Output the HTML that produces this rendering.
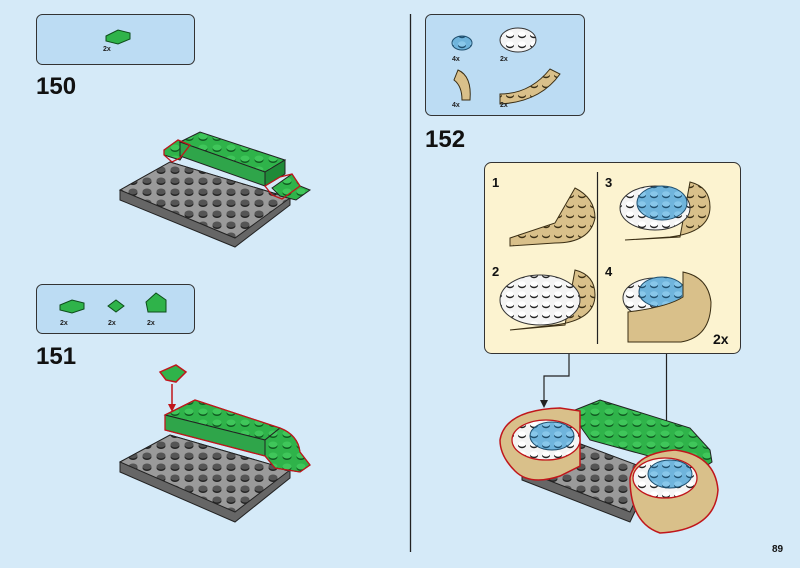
<!DOCTYPE html>
<html><head><style>
html,body{margin:0;padding:0;background:#d5eaf8;}
svg{display:block;font-family:"Liberation Sans",sans-serif;}
</style></head><body>
<svg width="800" height="568" viewBox="0 0 800 568" xmlns="http://www.w3.org/2000/svg">
<defs>
<pattern id="gs" x="0" y="0" width="14" height="11" patternUnits="userSpaceOnUse">
<rect width="14" height="11" fill="#9a9a9a"/>
<ellipse cx="7" cy="6" rx="4.5" ry="3" fill="#222"/><ellipse cx="7" cy="4.5" rx="4.5" ry="3" fill="#555"/>
</pattern>
<pattern id="gr" x="0" y="0" width="14" height="11" patternUnits="userSpaceOnUse">
<rect width="14" height="11" fill="#2fb34a"/>
<ellipse cx="7" cy="6" rx="4.5" ry="3" fill="#0f5a20"/><ellipse cx="7" cy="4.5" rx="4.5" ry="3" fill="#3fc65a"/>
</pattern>
<pattern id="bl" x="0" y="0" width="12" height="10" patternUnits="userSpaceOnUse">
<rect width="12" height="10" fill="#6fb4dc"/>
<ellipse cx="6" cy="5.5" rx="4" ry="2.7" fill="#1f4f6e"/><ellipse cx="6" cy="4" rx="4" ry="2.7" fill="#88c7ea"/>
</pattern>
<pattern id="wh" x="0" y="0" width="12" height="10" patternUnits="userSpaceOnUse">
<rect width="12" height="10" fill="#f4f4f4"/>
<ellipse cx="6" cy="5.5" rx="4" ry="2.7" fill="#222"/><ellipse cx="6" cy="4" rx="4" ry="2.7" fill="#fff"/>
</pattern>
<pattern id="tn" x="0" y="0" width="12" height="10" patternUnits="userSpaceOnUse">
<rect width="12" height="10" fill="#d9c08a"/>
<ellipse cx="6" cy="5.5" rx="4" ry="2.7" fill="#3a2e14"/><ellipse cx="6" cy="4" rx="4" ry="2.7" fill="#d9c08a"/>
</pattern>
</defs>
<rect width="800" height="568" fill="#d5eaf8"/>
<line x1="410.5" y1="14" x2="410.5" y2="552" stroke="#222" stroke-width="1.3"/>

<!-- parts box 150 -->
<rect x="36.5" y="14.5" width="158" height="50" rx="6" fill="#bcdcf3" stroke="#333"/>
<polygon points="106,36 118,30 130,33 130,39 118,44 106,41" fill="#2fb34a" stroke="#0d4d1a"/>
<text x="103" y="51" font-size="7" font-weight="bold" fill="#222">2x</text>
<text x="36" y="94" font-size="24" font-weight="bold" fill="#111">150</text>

<!-- model 150 -->
<polygon points="120,190 170,162 290,198 290,205 235,247 120,200" fill="#666" stroke="#222"/>
<polygon points="120,190 170,162 290,198 235,238" fill="url(#gs)" stroke="#222"/>
<polygon points="164,150 178,140 190,145 180,160 164,155" fill="url(#gr)" stroke="#222"/>
<polygon points="272,188 292,174 300,186 310,190 296,200 280,196" fill="url(#gr)" stroke="#222"/>
<polygon points="180,142 200,132 285,160 265,172" fill="url(#gr)" stroke="#222"/>
<polygon points="180,142 265,172 265,186 180,156" fill="#2fa54a" stroke="#222"/>
<polygon points="265,172 285,160 285,174 265,186" fill="#1f8a38" stroke="#222"/>
<path d="M164,150 L178,140 L190,145 L180,158 L172,162 L164,155 Z" fill="none" stroke="#c0161b" stroke-width="1.3"/>
<path d="M265,186 L280,177 L292,174 L300,186 L282,199 L272,195 Z" fill="none" stroke="#c0161b" stroke-width="1.3"/>

<!-- parts box 151 -->
<rect x="36.5" y="284.5" width="158" height="49" rx="6" fill="#bcdcf3" stroke="#333"/>
<polygon points="60,305 72,300 84,303 84,309 72,313 60,310" fill="#2fb34a" stroke="#0d4d1a"/>
<polygon points="108,306 116,300 124,306 116,312" fill="#2fb34a" stroke="#0d4d1a"/>
<polygon points="146,302 156,293 166,300 166,312 148,312" fill="#2fb34a" stroke="#0d4d1a"/>
<text x="60" y="325" font-size="7" font-weight="bold" fill="#222">2x</text>
<text x="108" y="325" font-size="7" font-weight="bold" fill="#222">2x</text>
<text x="147" y="325" font-size="7" font-weight="bold" fill="#222">2x</text>
<text x="36" y="364" font-size="24" font-weight="bold" fill="#111">151</text>

<!-- model 151 -->
<polygon points="160,372 176,365 186,372 176,382 166,380" fill="#2fb34a" stroke="#c0161b" stroke-width="1.5"/>
<line x1="172" y1="384" x2="172" y2="408" stroke="#c0161b" stroke-width="1.5"/>
<polygon points="168,404 176,404 172,412" fill="#c0161b"/>
<polygon points="120,462 170,435 290,470 290,478 235,522 120,472" fill="#666" stroke="#222"/>
<polygon points="120,462 170,435 290,470 235,512" fill="url(#gs)" stroke="#222"/>
<polygon points="165,415 195,400 280,428 265,440" fill="url(#gr)" stroke="#222"/>
<polygon points="165,415 265,440 265,456 165,430" fill="#2fa54a" stroke="#222"/>
<path d="M265,440 L280,428 Q298,435 300,452 L310,465 L300,472 L275,468 L265,456 Z" fill="url(#gr)" stroke="#222"/>
<path d="M165,415 L195,400 L280,428 Q298,435 300,452 L310,465 L300,472 L275,468 L265,456 L165,430 Z" fill="none" stroke="#c0161b" stroke-width="1.3"/>

<!-- parts box 152 -->
<rect x="425.5" y="14.5" width="159" height="101" rx="6" fill="#bcdcf3" stroke="#333"/>
<ellipse cx="462" cy="43" rx="10" ry="7" fill="url(#bl)" stroke="#1f4f6e"/>
<ellipse cx="518" cy="40" rx="18" ry="12" fill="url(#wh)" stroke="#333"/>
<path d="M458,70 q14,6 12,30 l-8,0 q0,-14 -8,-20 z" fill="#d9c08a" stroke="#3a2e14"/>
<path d="M500,94 q30,0 50,-25 l10,5 q-20,28 -60,30 z" fill="url(#tn)" stroke="#3a2e14"/>
<text x="452" y="61" font-size="7" font-weight="bold" fill="#222">4x</text>
<text x="500" y="61" font-size="7" font-weight="bold" fill="#222">2x</text>
<text x="452" y="107" font-size="7" font-weight="bold" fill="#222">4x</text>
<text x="500" y="107" font-size="7" font-weight="bold" fill="#222">2x</text>
<text x="425" y="147" font-size="24" font-weight="bold" fill="#111">152</text>

<!-- panel -->
<rect x="484.5" y="162.5" width="256" height="191" rx="7" fill="#fcf3d0" stroke="#333"/>
<line x1="597.5" y1="172" x2="597.5" y2="344" stroke="#222" stroke-width="1.2"/>
<text x="492" y="187" font-size="13" font-weight="bold" fill="#111">1</text>
<text x="492" y="276" font-size="13" font-weight="bold" fill="#111">2</text>
<text x="605" y="187" font-size="13" font-weight="bold" fill="#111">3</text>
<text x="605" y="276" font-size="13" font-weight="bold" fill="#111">4</text>
<text x="713" y="344" font-size="14" font-weight="bold" fill="#111">2x</text>
<path d="M510,238 l45,-15 l20,-35 q20,10 20,30 q-5,25 -40,25 l-45,3 z" fill="url(#tn)" stroke="#3a2e14"/>
<path d="M510,330 l45,-5 q40,-5 40,-30 q0,-20 -20,-25 l-10,55 z" fill="url(#tn)" stroke="#3a2e14"/>
<ellipse cx="540" cy="300" rx="40" ry="25" fill="url(#wh)" stroke="#333"/>
<path d="M625,240 l45,-3 q40,-5 40,-30 q0,-20 -20,-25 l-10,55 z" fill="url(#tn)" stroke="#3a2e14"/>
<ellipse cx="655" cy="208" rx="35" ry="22" fill="url(#wh)" stroke="#333"/>
<ellipse cx="662" cy="203" rx="25" ry="17" fill="url(#bl)" stroke="#1f4f6e"/>
<ellipse cx="655" cy="298" rx="32" ry="20" fill="url(#wh)" stroke="#333"/>
<ellipse cx="662" cy="292" rx="23" ry="15" fill="url(#bl)" stroke="#1f4f6e"/>
<path d="M628,312 q40,-5 55,-15 l0,-25 q25,5 28,30 q0,35 -30,40 l-53,0 z" fill="#d9c08a" stroke="#3a2e14"/>

<!-- connector arrows -->
<polyline points="569,354 569,376 544,376 544,402" fill="none" stroke="#222" stroke-width="1.2"/>
<polygon points="540,400 548,400 544,408" fill="#222"/>
<line x1="666.5" y1="354" x2="666.5" y2="458" stroke="#222" stroke-width="1.2"/>
<polygon points="662,456 671,456 666.5,464" fill="#222"/>

<!-- model 152 -->
<polygon points="570,412 600,400 690,428 710,450 712,462 700,470 590,440" fill="url(#gr)" stroke="#222"/>
<polygon points="522,470 570,440 650,470 650,480 630,522 522,480" fill="#666" stroke="#222"/>
<polygon points="522,470 570,440 650,470 630,512" fill="url(#gs)" stroke="#222"/>
<path d="M500,440 q5,-30 60,-32 l20,3 l0,55 l-20,10 q-30,10 -45,-5 q-15,-15 -15,-31 z" fill="#d9c08a" stroke="#c0161b" stroke-width="1.5"/>
<ellipse cx="546" cy="440" rx="34" ry="20" fill="url(#wh)" stroke="#c0161b" stroke-width="1.3"/>
<ellipse cx="552" cy="436" rx="22" ry="14" fill="url(#bl)" stroke="#1f4f6e"/>
<path d="M630,478 q5,-25 45,-28 q40,5 43,40 q-3,40 -58,43 q-30,-10 -30,-55 z" fill="#d9c08a" stroke="#c0161b" stroke-width="1.5"/>
<ellipse cx="665" cy="478" rx="32" ry="20" fill="url(#wh)" stroke="#c0161b" stroke-width="1.3"/>
<ellipse cx="670" cy="474" rx="22" ry="14" fill="url(#bl)" stroke="#1f4f6e"/>

<text x="772" y="552" font-size="10" font-weight="bold" fill="#111">89</text>
</svg>
</body></html>
